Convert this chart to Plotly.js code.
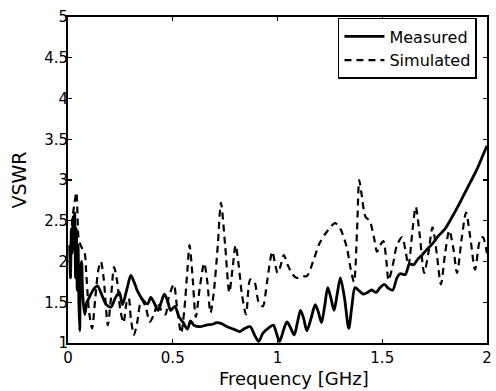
<!DOCTYPE html>
<html>
<head>
<meta charset="utf-8">
<script src="https://cdn.plot.ly/plotly-3.0.1.min.js"></script>
<style>html,body{margin:0;padding:0;background:#fff;}#chart{width:496px;height:391px;}</style>
</head>
<body>
<div id="chart"></div>
<script>
// Measured VSWR
const measFreq = [0.008,0.012,0.016,0.02,0.024,0.028,0.032,0.036,0.04,0.044,0.048,0.052,0.056,0.06,0.065,0.07,0.08,0.09,0.10,0.12,0.14,0.16,0.18,0.205,0.225,0.245,0.26,0.28,0.30,0.315,0.333,0.36,0.38,0.395,0.41,0.43,0.445,0.46,0.475,0.49,0.51,0.53,0.55,0.57,0.585,0.60,0.63,0.66,0.69,0.71,0.73,0.76,0.79,0.82,0.845,0.87,0.89,0.91,0.93,0.955,0.98,0.995,1.01,1.03,1.045,1.06,1.08,1.095,1.11,1.125,1.14,1.16,1.18,1.195,1.21,1.225,1.24,1.255,1.27,1.285,1.30,1.32,1.34,1.355,1.37,1.39,1.41,1.43,1.45,1.47,1.49,1.51,1.53,1.55,1.57,1.585,1.61,1.63,1.65,1.67,1.69,1.71,1.74,1.77,1.80,1.83,1.86,1.89,1.92,1.95,1.98,2.0];
const measVSWR = [2.2,1.8,2.4,2.1,2.55,2.2,2.6,1.8,2.4,1.65,2.2,1.5,1.15,1.9,2.0,1.6,1.35,1.5,1.55,1.65,1.7,1.6,1.48,1.44,1.55,1.62,1.47,1.65,1.83,1.75,1.63,1.52,1.48,1.56,1.5,1.40,1.5,1.6,1.52,1.40,1.45,1.32,1.25,1.17,1.27,1.22,1.2,1.22,1.23,1.25,1.24,1.2,1.17,1.14,1.18,1.2,1.1,1.02,1.12,1.18,1.22,1.12,1.02,1.17,1.26,1.2,1.1,1.25,1.4,1.3,1.15,1.3,1.47,1.38,1.25,1.45,1.68,1.55,1.4,1.6,1.8,1.55,1.18,1.45,1.68,1.64,1.6,1.62,1.65,1.62,1.68,1.72,1.67,1.65,1.8,1.85,1.84,1.97,1.96,2.03,2.08,2.14,2.22,2.32,2.4,2.53,2.67,2.82,2.97,3.12,3.3,3.42];

// Simulated VSWR
const simFreq = [0.01,0.02,0.03,0.04,0.045,0.05,0.06,0.07,0.08,0.086,0.1,0.115,0.13,0.145,0.157,0.17,0.19,0.205,0.22,0.235,0.25,0.265,0.28,0.29,0.30,0.315,0.33,0.35,0.37,0.39,0.41,0.43,0.445,0.465,0.48,0.505,0.52,0.54,0.555,0.57,0.58,0.595,0.61,0.63,0.65,0.665,0.68,0.695,0.715,0.73,0.75,0.77,0.785,0.80,0.815,0.83,0.85,0.87,0.89,0.91,0.93,0.95,0.975,0.99,1.0,1.015,1.03,1.05,1.07,1.09,1.12,1.14,1.17,1.2,1.24,1.275,1.3,1.33,1.35,1.365,1.38,1.39,1.40,1.42,1.44,1.46,1.475,1.49,1.505,1.52,1.53,1.55,1.57,1.595,1.61,1.625,1.645,1.66,1.68,1.7,1.72,1.74,1.76,1.78,1.80,1.82,1.84,1.857,1.88,1.90,1.92,1.943,1.965,1.98,2.0];
const simVSWR = [2.0,2.5,2.7,2.85,2.6,2.3,2.2,2.15,2.1,1.9,1.4,1.18,1.55,1.9,2.0,1.8,1.22,1.55,1.93,1.75,1.4,1.25,1.5,1.55,1.3,1.1,1.25,1.53,1.45,1.26,1.35,1.5,1.4,1.35,1.55,1.72,1.45,1.12,1.4,1.9,2.2,1.8,1.32,1.7,1.98,1.75,1.37,1.6,2.2,2.72,2.2,1.62,1.9,2.2,1.95,1.6,1.35,1.78,1.75,1.5,1.45,1.75,2.12,1.95,1.86,1.95,2.08,1.95,1.85,1.8,1.82,1.82,2.0,2.22,2.38,2.47,2.4,2.18,1.9,1.75,2.4,3.0,2.85,2.55,2.5,2.3,2.12,2.2,2.25,2.0,1.77,1.95,2.2,2.3,2.15,1.95,2.4,2.67,2.3,1.86,2.1,2.42,2.1,1.72,2.1,2.38,2.15,1.86,2.3,2.6,2.3,1.9,2.25,2.3,2.1];

const xTicks = [0,0.5,1,1.5,2];
const xTickText = ['0','0.5','1','1.5','2'];
const yTicks = [1,1.5,2,2.5,3,3.5,4,4.5,5];
const yTickText = ['1','1.5','2','2.5','3','3.5','4','4.5','5'];
const xTitle = 'Frequency [GHz]';
const yTitle = 'VSWR';

const FONT = 'DejaVu Sans, Arial, sans-serif';

const traces = [
  {x: measFreq, y: measVSWR, name: 'Measured', type: 'scatter', mode: 'lines',
   line: {color: '#000', width: 2.8, shape: 'spline', smoothing: 0.8}},
  {x: simFreq, y: simVSWR, name: 'Simulated', type: 'scatter', mode: 'lines',
   line: {color: '#000', width: 2.2, dash: '7px,5px', shape: 'spline', smoothing: 0.8}}
];

const axisCommon = {
  showline: true, linecolor: '#000', linewidth: 2, mirror: 'ticks',
  ticks: 'inside', ticklen: 4, tickcolor: '#000', tickwidth: 1.2,
  showgrid: false, zeroline: false,
  tickfont: {family: FONT, size: 15, color: '#000'}
};

const layout = {
  width: 496, height: 391,
  margin: {l: 68, r: 9, t: 17, b: 48},
  paper_bgcolor: '#fff', plot_bgcolor: '#fff',
  showlegend: true,
  legend: {x: 0.976, y: 0.997, xanchor: 'right', yanchor: 'top',
    bordercolor: '#000', borderwidth: 1.5, bgcolor: '#fff',
    itemwidth: 40,
    font: {family: FONT, size: 16, color: '#000'},
    tracegroupgap: 0},
  xaxis: Object.assign({}, axisCommon, {
    range: [0, 2], tickvals: xTicks, ticktext: xTickText
  }),
  yaxis: Object.assign({}, axisCommon, {
    range: [1, 5], tickvals: yTicks, ticktext: yTickText,
    ticklabelstandoff: -5
  }),
  annotations: [
    {text: xTitle, xref: 'paper', yref: 'paper', x: 0.54, y: -0.071,
     xanchor: 'center', yanchor: 'top', showarrow: false,
     font: {family: FONT, size: 18, color: '#000'}},
    {text: yTitle, xref: 'paper', yref: 'paper', x: -0.118, y: 0.5,
     xanchor: 'center', yanchor: 'middle', textangle: -90, showarrow: false,
     font: {family: FONT, size: 19, color: '#000'}}
  ]
};

Plotly.newPlot('chart', traces, layout, {staticPlot: true, displayModeBar: false});
</script>
</body>
</html>
